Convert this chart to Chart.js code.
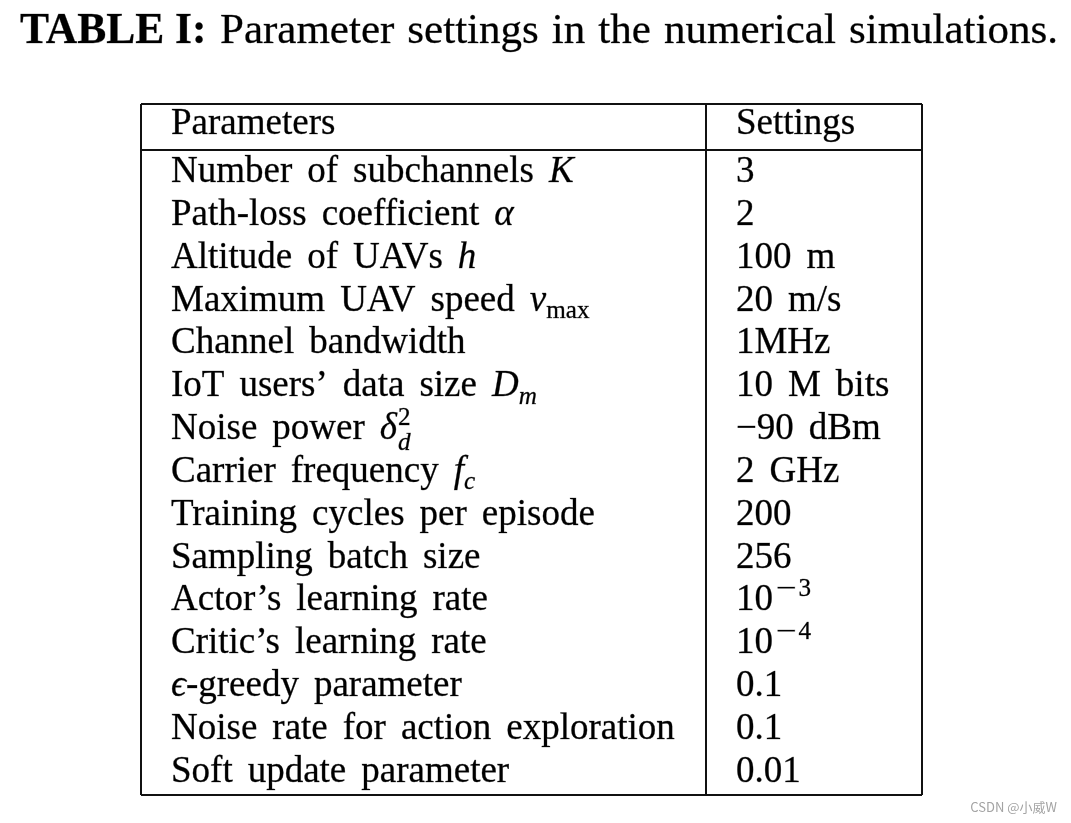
<!DOCTYPE html>
<html>
<head>
<meta charset="utf-8">
<script src="https://cdn.jsdelivr.net/npm/chart.js@4.4.1/dist/chart.umd.min.js"></script>
<style>
    html, body { margin: 0; padding: 0; background: #fff; }
    #wrap { width: 1071px; height: 823px; }
</style>
</head>
<body>
<div id="wrap"><canvas id="table-chart" width="1071" height="823"></canvas></div>
<script>
// Table content (markup: *x* italic, _{..} subscript, ^{..} superscript)
const titleBold = 'TABLE I:';
const titleText = 'Parameter settings in the numerical simulations.';
const headers = ['Parameters', 'Settings'];
const parameters = [
    'Number of subchannels *K*',
    'Path-loss coefficient *α*',
    'Altitude of UAVs *h*',
    'Maximum UAV speed *v*_{max}',
    'Channel bandwidth',
    'IoT users’ data size *D*_{*m*}',
    'Noise power *δ*^{2}_{*d*}',
    'Carrier frequency *f*_{*c*}',
    'Training cycles per episode',
    'Sampling batch size',
    'Actor’s learning rate',
    'Critic’s learning rate',
    '*ϵ*-greedy parameter',
    'Noise rate for action exploration',
    'Soft update parameter'
];
const settings = [
    '3', '2', '100 m', '20 m/s', '1MHz', '10 M bits', '−90 dBm', '2 GHz',
    '200', '256', '10^{−3}', '10^{−4}', '0.1', '0.1', '0.01'
];
const watermark = 'CSDN @小威W';

// Row index of every body row (1..15), header sits above row 1
const rowIndex = parameters.map(function(p, i) { return i + 1; });

// Layout in scale units: x runs 0..1 across the table, y is the text baseline row
const Y_MIN = -0.82;
const Y_MAX = 15.306;
const HEADER_Y = -0.12;
const HEADER_RULE_Y = 0.253;
const COL_RULE_X = 0.7234;
const COL1_X = 0.0384;
const COL2_X = 0.7618;

const FONT = '"Liberation Serif", "DejaVu Serif", serif';
const CELL_SIZE = 37;
const CELL_SPACE = 15;

// Split markup into runs of text with italic flag and script level
function parseRich(src) {
    const runs = [];
    let italic = false, level = 0, buf = '';
    const push = function() {
        if (buf) runs.push({ text: buf, italic: italic, level: level });
        buf = '';
    };
    for (let i = 0; i < src.length; i++) {
        const c = src[i];
        if (c === '*') { push(); italic = !italic; }
        else if ((c === '_' || c === '^') && src[i + 1] === '{') { push(); level = c === '^' ? 1 : -1; i++; }
        else if (c === '}' && level !== 0) { push(); level = 0; }
        else buf += c;
    }
    push();
    return runs;
}

// Text with a faint stroke so the weight is closer to the printed TeX fonts
function ink(ctx, text, x, y) {
    ctx.fillText(text, x, y);
    ctx.strokeText(text, x, y);
}

function drawWord(ctx, w, x, y, fs, scripted) {
    // TeX's math minus in scripts is wider than the text one
    if (scripted && w.charAt(0) === '−') {
        ctx.save();
        ctx.translate(x + 2, y);
        ctx.scale(1.45, 1);
        ink(ctx, '−', 0, 0);
        ctx.restore();
        const mw = ctx.measureText('−').width * 1.45 + 4;
        ink(ctx, w.slice(1), x + mw, y);
        return mw + ctx.measureText(w.slice(1)).width;
    }
    ink(ctx, w, x, y);
    return ctx.measureText(w).width;
}

function drawRich(ctx, src, x, y, size, spaceW) {
    const runs = parseRich(src);
    let cx = x, scriptStart = x, scriptEnd = x, prevLevel = 0;
    runs.forEach(function(r) {
        const fs = r.level ? size * 0.68 : size;
        ctx.font = (r.italic ? 'italic ' : '') + fs + 'px ' + FONT;
        let dy = 0;
        if (r.level === 1) dy = -size * 0.39;
        if (r.level === -1) dy = size * 0.2;
        if (r.level !== 0) {
            if (prevLevel !== 0 && prevLevel !== r.level) {
                // stacked sub/superscript
                cx = scriptStart;
                if (r.level === -1) dy = size * 0.3;
            } else {
                scriptStart = cx + (r.level === 1 ? 1 : 0);
                cx = scriptStart;
            }
        }
        const words = r.text.split(' ');
        words.forEach(function(w, wi) {
            if (wi > 0) cx += spaceW;
            cx += drawWord(ctx, w, cx, y + dy, fs, r.level !== 0);
        });
        if (r.level !== 0) {
            cx = Math.max(cx, scriptEnd);
        }
        scriptEnd = cx;
        prevLevel = r.level;
    });
}

// Draw cell text at each (invisible) point placed by the scales
const cellTextPlugin = {
    id: 'cellText',
    afterDatasetsDraw: function(chart) {
        const ctx = chart.ctx;
        ctx.save();
        ctx.fillStyle = '#000';
        ctx.strokeStyle = 'rgba(0,0,0,0.55)';
        ctx.lineWidth = 0.5;
        ctx.textBaseline = 'alphabetic';
        ctx.textAlign = 'left';
        chart.data.datasets.forEach(function(ds, di) {
            const meta = chart.getDatasetMeta(di);
            meta.data.forEach(function(pt, i) {
                drawRich(ctx, ds.cellText[i], pt.x, pt.y, CELL_SIZE, CELL_SPACE);
            });
        });
        ctx.restore();
    }
};

// Caption above the table and the watermark below it
const captionPlugin = {
    id: 'caption',
    afterDraw: function(chart) {
        const ctx = chart.ctx;
        ctx.save();
        ctx.fillStyle = '#000';
        ctx.strokeStyle = 'rgba(0,0,0,0.55)';
        ctx.lineWidth = 0.5;
        ctx.textBaseline = 'alphabetic';
        ctx.textAlign = 'left';
        ctx.font = 'bold 43.5px ' + FONT;
        ink(ctx, titleBold, 20, 43);
        ctx.font = '43px ' + FONT;
        const words = titleText.split(' ');
        const widths = words.map(function(w) { return ctx.measureText(w).width; });
        const total = widths.reduce(function(a, b) { return a + b; }, 0);
        const startX = 220, endX = 1058;
        const gap = (endX - startX - total) / (words.length - 1);
        let cx = startX;
        words.forEach(function(w, i) {
            ink(ctx, w, cx, 43);
            cx += widths[i] + gap;
        });

        ctx.font = '13px "Noto Sans CJK SC", "Noto Sans", sans-serif';
        ctx.fillStyle = '#a3a3a3';
        ctx.textAlign = 'right';
        ctx.fillText(watermark, 1057, 812);
        ctx.restore();
    }
};

function cellPoints(xValue, rows) {
    return rows.map(function(r) { return { x: xValue, y: r }; });
}

const ruleGrid = {
    display: true,
    color: '#111',
    lineWidth: 2,
    drawTicks: false
};

new Chart(document.getElementById('table-chart'), {
    type: 'scatter',
    data: {
        datasets: [
            {
                label: 'header',
                data: [{ x: COL1_X, y: HEADER_Y }, { x: COL2_X, y: HEADER_Y }],
                cellText: headers,
                pointRadius: 0
            },
            {
                label: 'Parameters',
                data: cellPoints(COL1_X, rowIndex),
                cellText: parameters,
                pointRadius: 0
            },
            {
                label: 'Settings',
                data: cellPoints(COL2_X, rowIndex),
                cellText: settings,
                pointRadius: 0
            }
        ]
    },
    options: {
        responsive: false,
        animation: false,
        events: [],
        layout: {
            padding: { left: 141, top: 104, right: 149, bottom: 28 }
        },
        scales: {
            x: {
                type: 'linear',
                min: 0,
                max: 1,
                afterBuildTicks: function(scale) {
                    scale.ticks = [0, COL_RULE_X, 1].map(function(v) { return { value: v }; });
                },
                ticks: { display: false },
                grid: ruleGrid,
                border: { display: false }
            },
            y: {
                type: 'linear',
                reverse: true,
                min: Y_MIN,
                max: Y_MAX,
                afterBuildTicks: function(scale) {
                    scale.ticks = [Y_MIN, HEADER_RULE_Y, Y_MAX].map(function(v) { return { value: v }; });
                },
                ticks: { display: false },
                grid: ruleGrid,
                border: { display: false }
            }
        },
        plugins: {
            legend: { display: false },
            tooltip: { enabled: false },
            title: { display: false }
        }
    },
    plugins: [cellTextPlugin, captionPlugin]
});
</script>
</body>
</html>
